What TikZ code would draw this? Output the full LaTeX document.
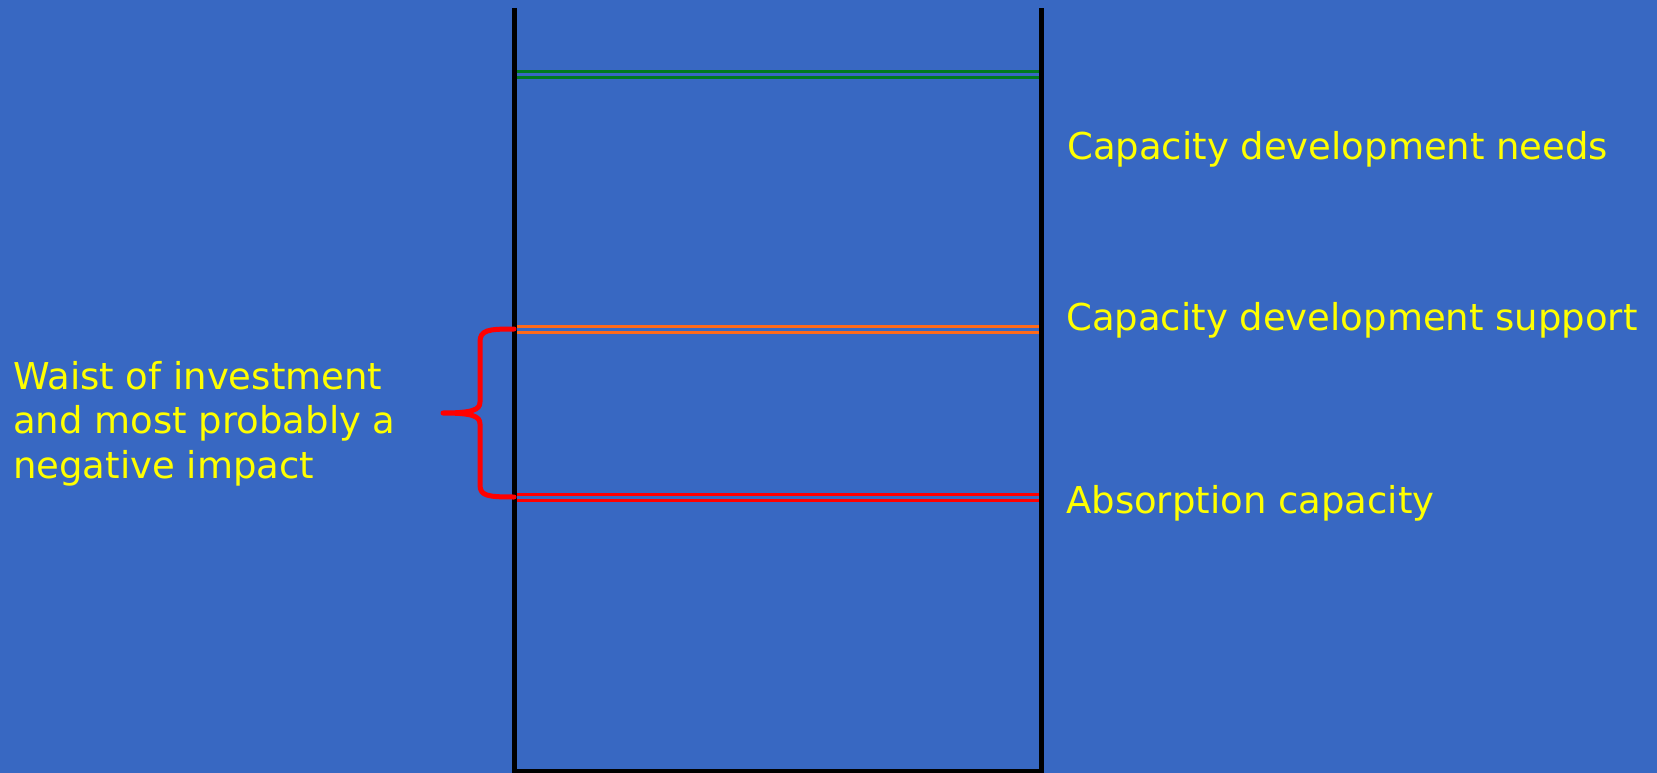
\documentclass[tikz,border=0pt]{standalone}
\usepackage{fontspec}
\setmainfont{DejaVu Sans}
\definecolor{bgblue}{HTML}{3868C2}
\definecolor{txtyellow}{HTML}{FFFF00}
\definecolor{lgreen}{HTML}{007A1E}
\definecolor{lorange}{HTML}{FF6A1A}
\definecolor{lred}{HTML}{FF0000}
\begin{document}
\begin{tikzpicture}[x=1pt,y=-1pt,
  lbl/.style={font=\fontsize{37}{45}\selectfont, text=txtyellow, inner sep=0pt, anchor=base west},
  level/.style={line width=3pt},
  wall/.style={line width=5pt, black}]
\useasboundingbox (0,0) rectangle (1657,773);
\fill[bgblue] (0,0) rectangle (1657,773);
% level lines
\draw[level, lgreen] (516,72) -- (1039,72);
\draw[level, lgreen] (516,78) -- (1039,78);
\draw[level, lorange] (516,326) -- (1039,326);
\draw[level, lorange] (516,332) -- (1039,332);
\draw[level, lred] (516,494) -- (1039,494);
\draw[level, lred] (516,500) -- (1039,500);
% container
\draw[wall] (514,8) -- (514,771) -- (1041,771) -- (1041,8);
% brace
\draw[lred, line width=5pt, line cap=round, line join=round]
  (514,329) .. controls (488,329) and (480,330) .. (480,342)
  -- (480,402) .. controls (480,410) and (472,413) .. (443,413)
  .. controls (472,413) and (480,416) .. (480,424)
  -- (480,485) .. controls (480,496) and (488,497) .. (514,497);
% labels
\node[lbl] (needs) at (1067,160) {Capacity development needs};
\node[lbl] (support) at (1066,330) {Capacity development support};
\node[lbl] (absorb) at (1066,513) {Absorption capacity};
\node[lbl] (waist1) at (13,389) {Waist of investment};
\node[lbl] (waist2) at (13,433) {and most probably a};
\node[lbl] (waist3) at (13,478) {negative impact};
\end{tikzpicture}
\end{document}
